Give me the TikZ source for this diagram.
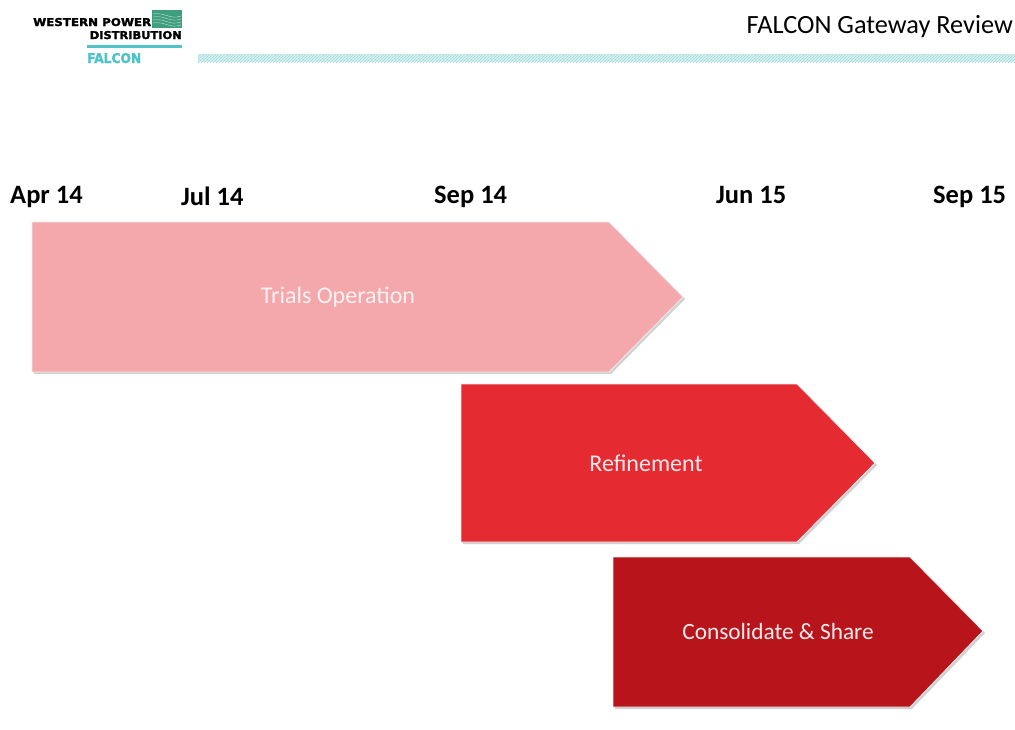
\documentclass[tikz,border=0pt]{standalone}
\usepackage{fontspec}
\setmainfont{Carlito}
\newfontfamily\logofont[BoldFeatures={FakeBold=2}]{DejaVu Sans}
\usetikzlibrary{patterns}
\definecolor{pinkA}{HTML}{F4A8AC}
\definecolor{redB}{HTML}{E52A31}
\definecolor{redC}{HTML}{B8141B}
\definecolor{tealL}{HTML}{4FC3C8}
\definecolor{tealH}{HTML}{9FD9DC}
\definecolor{logogreen}{HTML}{3E9E7E}
\begin{document}
\begin{tikzpicture}[x=1pt,y=-1pt,
  datelbl/.style={anchor=base west,inner sep=0pt,font=\bfseries\fontsize{26.5}{30}\selectfont,text=black},
  phaselbl/.style={inner sep=0pt,font=\fontsize{24}{27}\selectfont},
  phaseshape/.style={draw=white!85!gray,line width=0.8pt},
  shadowshape/.style={fill=black,opacity=0.18}]
\useasboundingbox (0,0) rectangle (1015,729);
% header
\node[anchor=base east,inner sep=0pt,font=\fontsize{26.3}{30}\selectfont] (title) at (1013,33) {FALCON Gateway Review};
\fill[tealH!40] (198,54) rectangle (1015,62);
\fill[pattern=north east lines,pattern color=tealH] (198,54) rectangle (1015,62);
% logo
\fill[logogreen] (152,10) rectangle (182,28);
\foreach \k in {0,1,2,3}{\draw[white!70!logogreen,line width=0.4pt] (153,14+3*\k) .. controls (165,12+3*\k) and (170,20+3*\k) .. (181,16+3*\k);}
\node[anchor=base west,inner sep=0pt] (logo1) at (33,26) {\resizebox{118pt}{8pt}{\logofont\bfseries WESTERN POWER}};
\node[anchor=base east,inner sep=0pt] (logo2) at (182,39) {\resizebox{92pt}{8pt}{\logofont\bfseries DISTRIBUTION}};
\fill[tealL] (87,45) rectangle (182,47.5);
\node[anchor=base west,inner sep=0pt,text=tealL] (logo3) at (87,63) {\resizebox{54pt}{10pt}{\logofont\bfseries FALCON}};
% dates
\node[datelbl] (d1) at (10,203) {Apr 14};
\node[datelbl] (d2) at (181,205) {Jul 14};
\node[datelbl] (d3) at (434,203) {Sep 14};
\node[datelbl] (d4) at (716,203) {Jun 15};
\node[datelbl] (d5) at (933,203) {Sep 15};
% phase 1
\fill[shadowshape] (34,224) -- (611,224) -- (685,299) -- (611,374) -- (34,374) -- cycle;
\filldraw[phaseshape,fill=pinkA] (32,222) -- (609,222) -- (683,297) -- (609,372) -- (32,372) -- cycle;
\node[phaselbl,text=white!85!pinkA] (p1) at (338,297) {Trials Operation};
% phase 2
\fill[shadowshape] (463,386) -- (799,386) -- (877,465) -- (799,544) -- (463,544) -- cycle;
\filldraw[phaseshape,fill=redB] (461,384) -- (797,384) -- (875,463) -- (797,542) -- (461,542) -- cycle;
\node[phaselbl,text=white!90!redB] (p2) at (646,463) {Refinement};
% phase 3
\fill[shadowshape] (615,559) -- (912,559) -- (985,633) -- (912,709) -- (615,709) -- cycle;
\filldraw[phaseshape,fill=redC] (613,557) -- (910,557) -- (983,631) -- (910,707) -- (613,707) -- cycle;
\node[phaselbl,font=\fontsize{23.3}{26}\selectfont,text=white!92!redC] (p3) at (778,631) {Consolidate \& Share};
\end{tikzpicture}
\end{document}
